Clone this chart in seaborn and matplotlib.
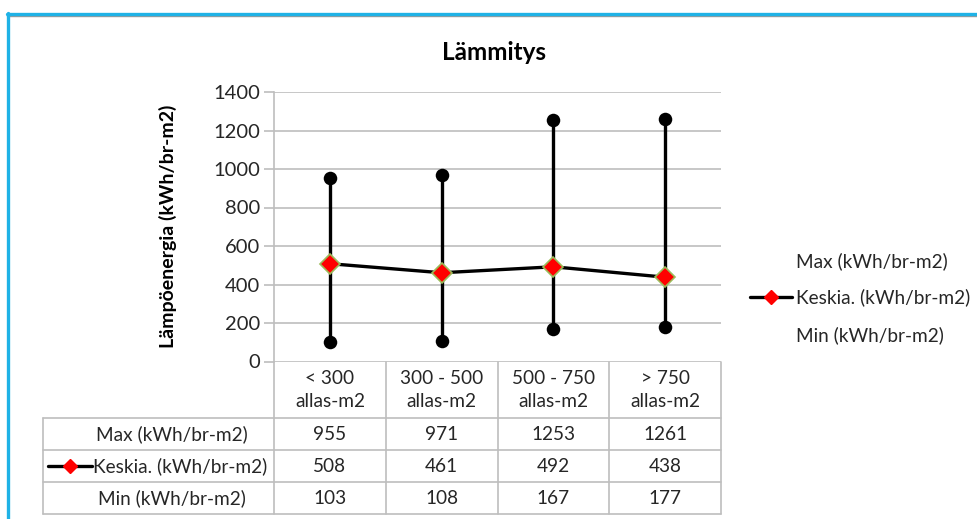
import numpy as np
import pandas as pd
import matplotlib
matplotlib.use("Agg")
import matplotlib.pyplot as plt
from matplotlib.lines import Line2D
import seaborn as sns

categories = ["< 300\nallas-m2", "300 - 500\nallas-m2", "500 - 750\nallas-m2", "> 750\nallas-m2"]
max_vals = [955, 971, 1253, 1261]
mean_vals = [508, 461, 492, 438]
min_vals = [103, 108, 167, 177]
series_names = ["Max (kWh/br-m2)", "Keskia. (kWh/br-m2)", "Min (kWh/br-m2)"]
y_ticks = [0, 200, 400, 600, 800, 1000, 1200, 1400]

sns.set_theme(style="white")
plt.rcParams["font.family"] = ["Lato", "DejaVu Sans"]

W, H = 977, 519
fig = plt.figure(figsize=(W / 100, H / 100), dpi=100)

def fx(px):
    return px / W

def fy(py):
    return 1 - py / H

TXT = "#262626"
GRID = "#BEBEBE"
FS = 13.7

# plot area
x0, x1, ytop, ybot = 274, 721, 92, 361.5
ax = fig.add_axes([fx(x0), fy(ybot), fx(x1) - fx(x0), fy(ytop) - fy(ybot)])

pos = np.arange(len(categories))
df = pd.DataFrame({"pos": pos, "max": max_vals, "mean": mean_vals, "min": min_vals})

ax.vlines(df["pos"], df["min"], df["max"], color="black", lw=2.4, zorder=3)
sns.scatterplot(data=df, x="pos", y="max", ax=ax, color="black", s=95,
                edgecolor="black", linewidth=0, zorder=4, legend=False)
sns.scatterplot(data=df, x="pos", y="min", ax=ax, color="black", s=95,
                edgecolor="black", linewidth=0, zorder=4, legend=False)
sns.lineplot(data=df, x="pos", y="mean", ax=ax, color="black", lw=2.4,
             marker="D", markersize=10, markerfacecolor="#FF0000",
             markeredgecolor="#9BBB59", markeredgewidth=1.2, zorder=5)

ax.set_xlim(-0.5, 3.5)
ax.set_ylim(0, 1400)
ax.set_yticks(y_ticks)
ax.set_yticklabels([str(v) for v in y_ticks], fontsize=14.5, color=TXT)
ax.set_xticks([])
ax.set_xlabel("")
ax.set_ylabel("Lämpöenergia (kWh/br-m2)", fontsize=14, fontweight="bold",
              color="black", labelpad=26)
ax.yaxis.grid(True, color=GRID, lw=1.2)
ax.xaxis.grid(False)
for side in ["top", "right", "bottom"]:
    ax.spines[side].set_visible(False)
ax.spines["left"].set_color(GRID)
ax.spines["left"].set_linewidth(1.2)
ax.tick_params(axis="y", which="major", left=True, length=7, width=1.2,
               color=GRID, pad=3)

# title
fig.text(fx(494), fy(52), "Lämmitys", ha="center", va="center",
         fontsize=17.5, fontweight="bold", color="black")

# data table below the plot
col_w = (x1 - x0) / len(categories)
col_edges = [x0 + i * col_w for i in range(len(categories) + 1)]
row_edges = [ybot, 418, 450, 482, 514]
tl, tr = 43, x1

def hline(y, xa, xb):
    fig.add_artist(Line2D([fx(xa), fx(xb)], [fy(y), fy(y)], color=GRID, lw=1.2))

def vline(x, ya, yb):
    fig.add_artist(Line2D([fx(x), fx(x)], [fy(ya), fy(yb)], color=GRID, lw=1.2))

hline(row_edges[1], tl, tr)
hline(row_edges[2], tl, tr)
hline(row_edges[3], tl, tr)
hline(row_edges[4], tl, tr)
for xe in col_edges:
    vline(xe, row_edges[0], row_edges[4])
vline(tl, row_edges[1], row_edges[4])

for i, cat in enumerate(categories):
    cx = (col_edges[i] + col_edges[i + 1]) / 2
    fig.text(fx(cx), fy((row_edges[0] + row_edges[1]) / 2), cat, ha="center",
             va="center", fontsize=FS, color=TXT, linespacing=1.4)

rows = [max_vals, mean_vals, min_vals]
lab_cx = (tl + x0) / 2
for r, (name, vals) in enumerate(zip(series_names, rows)):
    cy = (row_edges[r + 1] + row_edges[r + 2]) / 2
    if r == 1:
        fig.add_artist(Line2D([fx(48), fx(92)], [fy(cy), fy(cy)], color="black", lw=2.4))
        fig.add_artist(Line2D([fx(70)], [fy(cy)], marker="D", markersize=7,
                              markerfacecolor="#FF0000", markeredgecolor="#FF0000",
                              color="none"))
        fig.text(fx(93), fy(cy), name, ha="left", va="center", fontsize=FS, color=TXT)
    else:
        fig.text(fx(lab_cx + 13), fy(cy), name, ha="center", va="center",
                 fontsize=FS, color=TXT)
    for i, v in enumerate(vals):
        cx = (col_edges[i] + col_edges[i + 1]) / 2
        fig.text(fx(cx), fy(cy), str(v), ha="center", va="center",
                 fontsize=FS, color=TXT)

# legend at the right
fig.text(fx(796), fy(261), series_names[0], ha="left", va="center", fontsize=FS, color=TXT)
fig.add_artist(Line2D([fx(750), fx(792)], [fy(297), fy(297)], color="black", lw=2.4))
fig.add_artist(Line2D([fx(771)], [fy(297)], marker="D", markersize=7,
                      markerfacecolor="#FF0000", markeredgecolor="#FF0000", color="none"))
fig.text(fx(796), fy(297), series_names[1], ha="left", va="center", fontsize=FS, color=TXT)
fig.text(fx(796), fy(335), series_names[2], ha="left", va="center", fontsize=FS, color=TXT)

# blue frame
BLUE = "#1FB2E6"
fig.add_artist(Line2D([fx(7), 1], [fy(15.5), fy(15.5)], color="#9A9A9A", lw=1.0))
fig.add_artist(Line2D([fx(7), 1], [fy(13.5), fy(13.5)], color=BLUE, lw=2.4))
fig.add_artist(Line2D([fx(8), fx(8)], [fy(13), 0], color=BLUE, lw=2.4))

fig.savefig("out.png", dpi=100)
